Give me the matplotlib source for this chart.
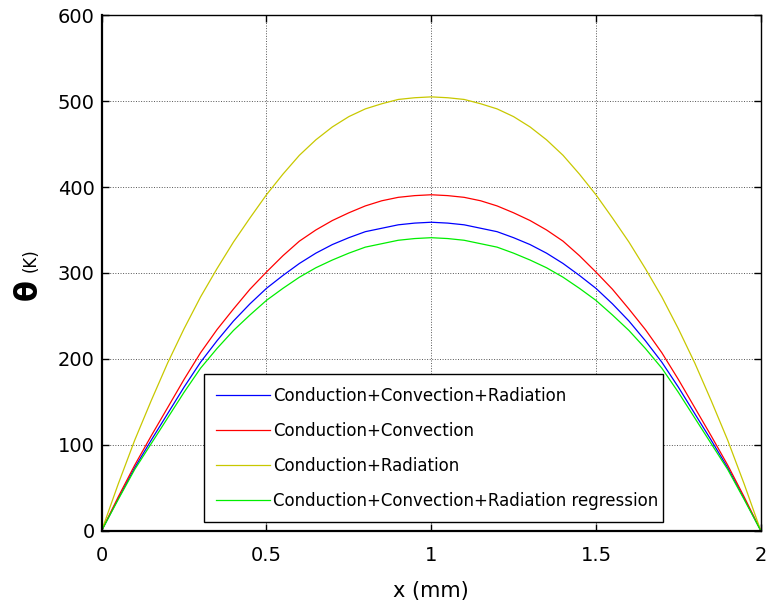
import matplotlib
matplotlib.use("Agg")
import matplotlib.pyplot as plt

# ---- data ----
x_mm = [0.0, 0.05, 0.1, 0.15, 0.2, 0.25, 0.3, 0.35, 0.4, 0.45, 0.5,
        0.55, 0.6, 0.65, 0.7, 0.75, 0.8, 0.85, 0.9, 0.95, 1.0,
        1.05, 1.1, 1.15, 1.2, 1.25, 1.3, 1.35, 1.4, 1.45, 1.5,
        1.55, 1.6, 1.65, 1.7, 1.75, 1.8, 1.85, 1.9, 1.95, 2.0]

theta_cond_conv_rad = [0, 37, 73, 105, 136, 167, 196, 221, 244, 264, 282,
                       297, 311, 323, 333, 341, 348, 352, 356, 358, 359,
                       358, 356, 352, 348, 341, 333, 323, 311, 297, 282,
                       264, 244, 221, 196, 167, 136, 105, 73, 37, 0]
theta_cond_conv = [0, 39, 76, 110, 143, 176, 207, 234, 258, 281, 301,
                   320, 337, 350, 361, 370, 378, 384, 388, 390, 391,
                   390, 388, 384, 378, 370, 361, 350, 337, 320, 301,
                   281, 258, 234, 207, 176, 143, 110, 76, 39, 0]
theta_cond_rad = [0, 54, 105, 151, 195, 235, 272, 305, 336, 364, 391,
                  415, 437, 455, 470, 482, 491, 497, 502, 504, 505,
                  504, 502, 497, 491, 482, 470, 455, 437, 415, 391,
                  364, 336, 305, 272, 235, 195, 151, 105, 54, 0]
theta_regression = [0, 36, 71, 101, 131, 161, 189, 212, 233, 251, 268,
                    282, 295, 306, 315, 323, 330, 334, 338, 340, 341,
                    340, 338, 334, 330, 323, 315, 306, 295, 282, 268,
                    251, 233, 212, 189, 161, 131, 101, 71, 36, 0]

series_labels = ["Conduction+Convection+Radiation",
                 "Conduction+Convection",
                 "Conduction+Radiation",
                 "Conduction+Convection+Radiation regression"]
series_colors = ["#0000ff", "#ff0000", "#c8c800", "#00ee00"]

x_ticks = [0, 0.5, 1, 1.5, 2]
x_ticklabels = ["0", "0.5", "1", "1.5", "2"]
y_ticks = [0, 100, 200, 300, 400, 500, 600]

# ---- figure ----
plt.rcParams['font.family'] = ['DejaVu Sans']
fig = plt.figure(figsize=(7.67, 6.05), dpi=100)
ax = fig.add_axes([101.7/767, 1-530.5/605, (760.7-101.7)/767, (530.5-15.3)/605])

all_series = [theta_cond_conv_rad, theta_cond_conv, theta_cond_rad, theta_regression]
for ys, lab, col in zip(all_series, series_labels, series_colors):
    ax.plot(x_mm, ys, color=col, lw=0.9, label=lab)

ax.set_xlim(0, 2)
ax.set_ylim(0, 600)
ax.set_xticks(x_ticks)
ax.set_xticklabels(x_ticklabels)
ax.set_yticks(y_ticks)
ax.tick_params(direction='in', length=5, width=1, labelsize=14, pad=5,
               top=True, right=True, colors='black')
ax.tick_params(axis='x', pad=11)
ax.grid(True, linestyle=':', color='#555555', lw=0.7)

for s in ['left', 'bottom']:
    ax.spines[s].set_linewidth(1.6)
for s in ['top', 'right']:
    ax.spines[s].set_linewidth(1.0)

ax.set_xlabel("x (mm)", fontsize=15, labelpad=12)

fig.text(28/767, 1-290/605, "θ", rotation=90, fontsize=22, fontweight='bold',
         ha='center', va='center')
fig.text(31/767, 1-260/605, "(K)", rotation=90, fontsize=12,
         ha='center', va='center')

leg = ax.legend(loc='upper left', bbox_to_anchor=(0.1552, 0.0, 0.696, 0.303),
                mode='expand', borderaxespad=0, fontsize=12, handlelength=3.2,
                handletextpad=0.2, borderpad=0.75, labelspacing=1.02,
                fancybox=False, framealpha=1, edgecolor='black')
leg.get_frame().set_linewidth(1.0)

fig.savefig("out.png", dpi=100)
